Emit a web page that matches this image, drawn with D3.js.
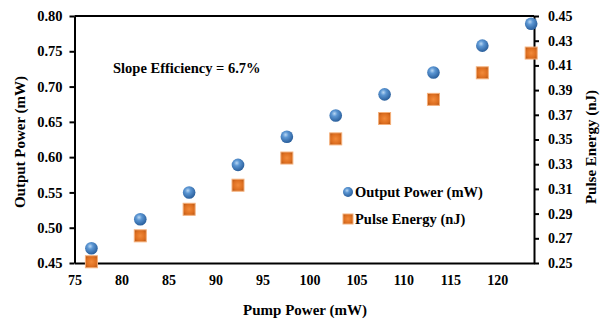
<!DOCTYPE html>
<html>
<head>
<meta charset="utf-8">
<script src="https://cdn.jsdelivr.net/npm/d3@7"></script>
<style>
  body { margin: 0; background: #fff; }
  svg { display: block; }
  text { font-family: "Liberation Serif", "Times New Roman", serif; font-weight: bold; fill: #000; }
  .axis path, .axis line { stroke: #000; stroke-width: 2; }
</style>
</head>
<body>
<div id="chart"></div>
<script>
// pump power (mW)
var pumpPower = [76.8, 82.0, 87.2, 92.4, 97.6, 102.8, 108.0, 113.2, 118.4, 123.6];
// output power (mW), left axis
var outputPower = [0.471, 0.512, 0.550, 0.589, 0.629, 0.659, 0.689, 0.720, 0.758, 0.789];
// pulse energy (nJ), right axis
var pulseEnergy = [0.251, 0.272, 0.2935, 0.313, 0.335, 0.3505, 0.367, 0.3825, 0.404, 0.420];

var xTicks = [75, 80, 85, 90, 95, 100, 105, 110, 115, 120];
var leftTicks = [0.45, 0.50, 0.55, 0.60, 0.65, 0.70, 0.75, 0.80];
var rightTicks = [0.25, 0.27, 0.29, 0.31, 0.33, 0.35, 0.37, 0.39, 0.41, 0.43, 0.45];

var width = 607, height = 322;
var margin = {top: 16, right: 73, bottom: 59, left: 74.5};
var innerW = width - margin.left - margin.right;
var innerH = height - margin.top - margin.bottom;

var svg = d3.select("#chart").append("svg")
  .attr("width", width)
  .attr("height", height);

var defs = svg.append("defs");
var ball = defs.append("radialGradient")
  .attr("id", "ball")
  .attr("cx", "40%").attr("cy", "35%").attr("r", "65%");
ball.append("stop").attr("offset", "0%").attr("stop-color", "#b9d7f3");
ball.append("stop").attr("offset", "35%").attr("stop-color", "#5b96d3");
ball.append("stop").attr("offset", "100%").attr("stop-color", "#2a5f9c");

var cube = defs.append("radialGradient")
  .attr("id", "cube")
  .attr("cx", "50%").attr("cy", "50%").attr("r", "70%");
cube.append("stop").attr("offset", "0%").attr("stop-color", "#f28a3a");
cube.append("stop").attr("offset", "60%").attr("stop-color", "#dc6d1f");
cube.append("stop").attr("offset", "100%").attr("stop-color", "#a94f12");

var g = svg.append("g")
  .attr("transform", "translate(" + margin.left + "," + margin.top + ")");

var x = d3.scaleLinear().domain([75, 123.9]).range([0, innerW]);
var yL = d3.scaleLinear().domain([0.45, 0.80]).range([innerH, 0]);
var yR = d3.scaleLinear().domain([0.25, 0.45]).range([innerH, 0]);

// top border
g.append("line")
  .attr("x1", 0).attr("x2", innerW)
  .attr("y1", 0).attr("y2", 0)
  .attr("stroke", "#000").attr("stroke-width", 2);

var xAxis = g.append("g")
  .attr("class", "axis")
  .attr("transform", "translate(0," + innerH + ")")
  .call(d3.axisBottom(x).tickValues(xTicks).tickSize(0).tickPadding(12).tickFormat(d3.format("d")));
xAxis.selectAll("text").style("font-size", "14px");

var leftAxis = g.append("g")
  .attr("class", "axis")
  .call(d3.axisLeft(yL).tickValues(leftTicks).tickSize(5).tickSizeOuter(0).tickPadding(7).tickFormat(d3.format(".2f")));
leftAxis.selectAll("text").style("font-size", "14.5px");

var rightAxis = g.append("g")
  .attr("class", "axis")
  .attr("transform", "translate(" + innerW + ",0)")
  .call(d3.axisRight(yR).tickValues(rightTicks).tickSize(5).tickSizeOuter(0).tickPadding(9).tickFormat(d3.format(".2f")));
rightAxis.selectAll("text").style("font-size", "14px");

// pulse energy squares
var sq = 12;
g.append("g").selectAll("rect")
  .data(pumpPower)
  .enter().append("rect")
    .attr("x", function (d) { return x(d) - sq / 2; })
    .attr("y", function (d, i) { return yR(pulseEnergy[i]) - sq / 2; })
    .attr("width", sq)
    .attr("height", sq)
    .attr("fill", "url(#cube)")
    .attr("stroke", "#f6b07a")
    .attr("stroke-width", 1);

// output power balls
g.append("g").selectAll("circle")
  .data(pumpPower)
  .enter().append("circle")
    .attr("cx", function (d) { return x(d); })
    .attr("cy", function (d, i) { return yL(outputPower[i]); })
    .attr("r", 6.3)
    .attr("fill", "url(#ball)");

// axis titles
svg.append("text")
  .attr("x", 305).attr("y", 315)
  .attr("text-anchor", "middle")
  .style("font-size", "15px")
  .text("Pump Power (mW)");

svg.append("text")
  .attr("transform", "translate(25,142) rotate(-90)")
  .attr("text-anchor", "middle")
  .style("font-size", "15px")
  .text("Output Power (mW)");

svg.append("text")
  .attr("transform", "translate(596,147) rotate(-90)")
  .attr("text-anchor", "middle")
  .style("font-size", "15px")
  .text("Pulse Energy (nJ)");

svg.append("text")
  .attr("x", 113).attr("y", 73)
  .style("font-size", "14.5px")
  .text("Slope Efficiency = 6.7%");

// legend
var legend = svg.append("g");
legend.append("circle")
  .attr("cx", 348).attr("cy", 192).attr("r", 5)
  .attr("fill", "url(#ball)");
legend.append("text")
  .attr("x", 355).attr("y", 197)
  .style("font-size", "14.5px")
  .text("Output Power (mW)");
legend.append("rect")
  .attr("x", 343).attr("y", 214).attr("width", 10).attr("height", 10)
  .attr("fill", "url(#cube)")
  .attr("stroke", "#f6b07a").attr("stroke-width", 1);
legend.append("text")
  .attr("x", 355).attr("y", 224)
  .style("font-size", "14.5px")
  .text("Pulse Energy (nJ)");
</script>
</body>
</html>
